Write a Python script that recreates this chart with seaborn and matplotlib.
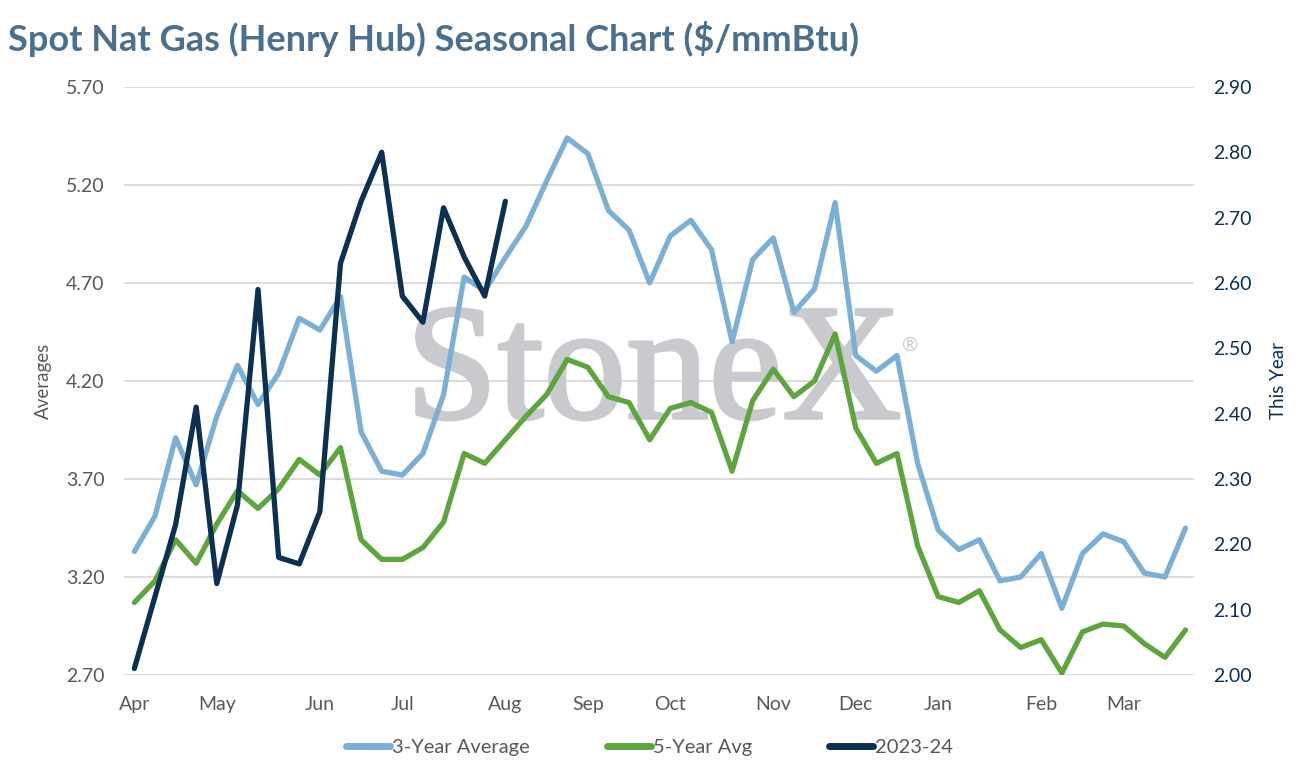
import numpy as np
import pandas as pd
import matplotlib
matplotlib.use("Agg")
import matplotlib.pyplot as plt
import matplotlib.patheffects as pe
import seaborn as sns
from matplotlib.lines import Line2D

# weekly values, Apr -> Mar
avg_3yr = [3.33, 3.51, 3.91, 3.67, 4.02, 4.28, 4.08, 4.24, 4.52, 4.46,
           4.63, 3.94, 3.74, 3.72, 3.83, 4.13, 4.73, 4.66, 4.83, 4.99,
           5.22, 5.44, 5.36, 5.07, 4.97, 4.70, 4.94, 5.02, 4.87, 4.40,
           4.82, 4.93, 4.55, 4.67, 5.11, 4.33, 4.25, 4.33, 3.78, 3.44,
           3.34, 3.39, 3.18, 3.20, 3.32, 3.04, 3.32, 3.42, 3.38, 3.22,
           3.20, 3.45]
avg_5yr = [3.07, 3.18, 3.39, 3.27, 3.47, 3.64, 3.55, 3.65, 3.80, 3.72,
           3.86, 3.39, 3.29, 3.29, 3.35, 3.48, 3.83, 3.78, 3.90, 4.02,
           4.13, 4.31, 4.27, 4.12, 4.09, 3.90, 4.06, 4.09, 4.04, 3.74,
           4.10, 4.26, 4.12, 4.20, 4.44, 3.96, 3.78, 3.83, 3.36, 3.10,
           3.07, 3.13, 2.93, 2.84, 2.88, 2.71, 2.92, 2.96, 2.95, 2.86,
           2.79, 2.93]
this_year = [2.01, 2.12, 2.23, 2.41, 2.14, 2.26, 2.59, 2.18, 2.17, 2.25,
             2.63, 2.725, 2.80, 2.58, 2.54, 2.715, 2.64, 2.58, 2.725]
month_labels = ["Apr", "May", "Jun", "Jul", "Aug", "Sep", "Oct", "Nov",
                "Dec", "Jan", "Feb", "Mar"]
month_weeks = [0, 4, 9, 13, 18, 22, 26, 31, 35, 39, 44, 48]
series_names = ["3-Year Average", "5-Year Avg", "2023-24"]

c_3yr = "#7bafd6"
c_5yr = "#5ea540"
c_now = "#0c2f52"
grey = "#595959"
mark_grey = "#c9cacd"

df = pd.DataFrame({"week": np.arange(len(avg_3yr)),
                   series_names[0]: avg_3yr,
                   series_names[1]: avg_5yr})
df_long = df.melt(id_vars="week", var_name="series", value_name="price")
df_now = pd.DataFrame({"week": np.arange(len(this_year)), "price": this_year})

sns.set_style("white")
plt.rcParams["font.family"] = ["Lato", "DejaVu Sans"]

fig = plt.figure(figsize=(12.99, 7.71), dpi=100)
ax = fig.add_axes([0.0955, 0.1245, 0.8235, 0.7627])
ax.patch.set_alpha(0)

sns.lineplot(data=df_long, x="week", y="price", hue="series",
             palette=[c_3yr, c_5yr], linewidth=3.8, ax=ax, legend=False,
             zorder=3)
ax2 = ax.twinx()
sns.lineplot(data=df_now, x="week", y="price", color=c_now, linewidth=3.8,
             ax=ax2, legend=False, zorder=3)

ax.set_xlim(-0.5, 51.4)
ax.set_ylim(2.70, 5.70)
ax.set_yticks(np.arange(2.70, 5.71, 0.5))
ax.set_yticklabels([f"{v:.2f}" for v in np.arange(2.70, 5.71, 0.5)])
ax2.set_ylim(2.00, 2.90)
ax2.set_yticks(np.arange(2.00, 2.91, 0.1))
ax2.set_yticklabels([f"{v:.2f}" for v in np.arange(2.00, 2.91, 0.1)])
ax.set_xticks(month_weeks)
ax.set_xticklabels(month_labels)

ax.grid(axis="y", color="#d9d9d9", linewidth=1.3)
ax.set_axisbelow(True)
for a in (ax, ax2):
    for s in a.spines.values():
        s.set_visible(False)
ax.tick_params(axis="y", length=0, pad=14, labelsize=14, labelcolor=grey)
ax.tick_params(axis="x", length=0, pad=15, labelsize=14, labelcolor=grey)
ax2.tick_params(axis="y", length=0, pad=14, labelsize=14, labelcolor=c_now)

ax.set_xlabel("")
ax.set_ylabel("Averages", fontsize=13.5, color=grey, labelpad=10)
ax2.set_ylabel("This Year", fontsize=13.5, color=c_now, labelpad=13)

# watermark
ax.text(0.495, 0.505, "StoneX", transform=ax.transAxes, ha="center",
        va="center", fontsize=119, color=mark_grey,
        family="Liberation Serif", zorder=1,
        path_effects=[pe.withStroke(linewidth=2.5, foreground=mark_grey)])
ax.text(0.735, 0.56, "®", transform=ax.transAxes, ha="center", va="center",
        fontsize=14, color=mark_grey, zorder=1)

fig.text(0.006, 0.95, "Spot Nat Gas (Henry Hub) Seasonal Chart ($/mmBtu)",
         fontsize=26, fontweight="bold", color="#4b6f8c", ha="left",
         va="center")

handles = [Line2D([], [], color=c, linewidth=5, solid_capstyle="round")
           for c in (c_3yr, c_5yr, c_now)]
fig.legend(handles, series_names, loc="center", bbox_to_anchor=(0.5, 0.031),
           ncol=3, frameon=False, fontsize=14.5, handlelength=2.2,
           handletextpad=0.1, columnspacing=3.8, labelcolor=grey)

fig.savefig("out.png", dpi=100)
